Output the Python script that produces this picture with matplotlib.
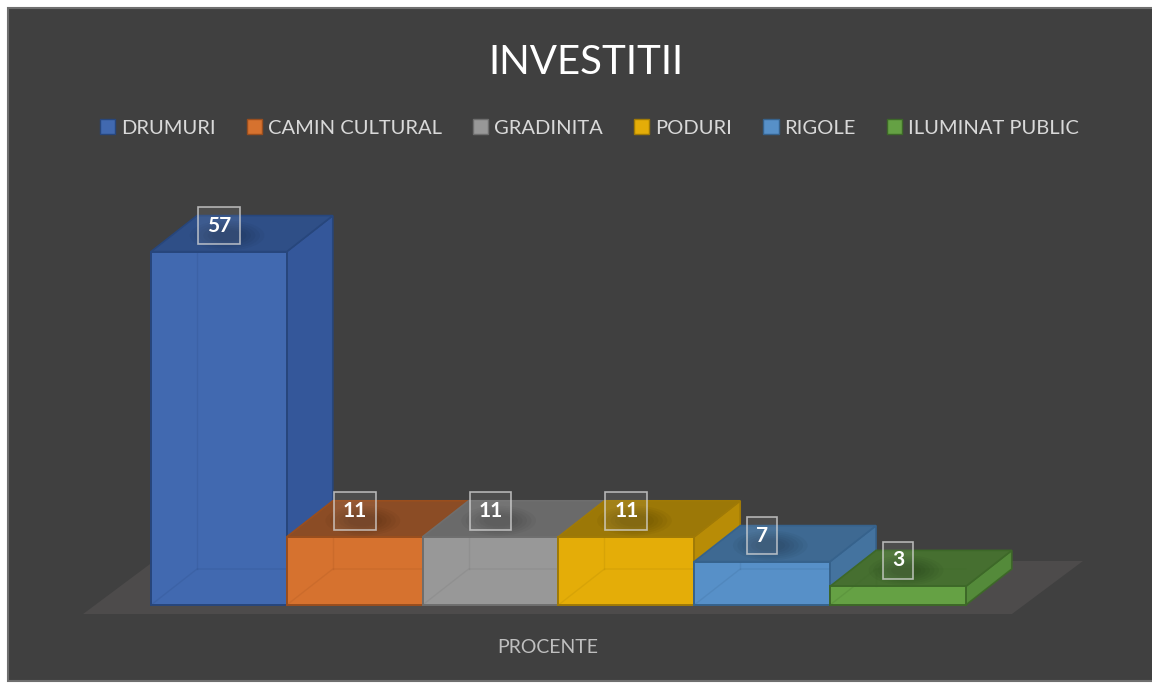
import matplotlib
matplotlib.use('Agg')
import matplotlib.pyplot as plt
from matplotlib.patches import Polygon, Rectangle, Patch, Ellipse

plt.rcParams['font.family'] = ['Lato', 'DejaVu Sans']

# data
categories = ['DRUMURI', 'CAMIN CULTURAL', 'GRADINITA', 'PODURI', 'RIGOLE', 'ILUMINAT PUBLIC']
values = [57, 11, 11, 11, 7, 3]
title = 'INVESTITII'
axis_label = 'PROCENTE'

# face colours (front / top / side / edge)
front_colors = ['#4169b0', '#d6722f', '#989898', '#e4ad08', '#5790c8', '#65a144']
top_colors = ['#2f4f87', '#8b4c25', '#6a6a6a', '#9c7807', '#3e6992', '#466f30']
side_colors = ['#34579a', '#a85a27', '#7a7a7a', '#b88c06', '#44739f', '#548a3a']
edge_colors = ['#27467c', '#994e1e', '#6e6e6e', '#a07a06', '#36628c', '#3d6828']

W, H = 1152, 683
# pixel layout of the plot: where x=0 / v=0 fall and size of one unit
px_x0, px_unit = 151, 135.8
px_y0, px_v = 605, 6.2
depth_x = 46 / px_unit
depth_v = 36 / px_v

fig = plt.figure(figsize=(W / 100, H / 100), dpi=100, facecolor='white')

# chart box
box = Rectangle((8 / W, 2 / H), 1.0, (681 - 8) / H, transform=fig.transFigure,
                fc='#404040', ec='#6f6f6f', lw=1.5, zorder=-5)
fig.patches.append(box)

ax = fig.add_axes([0, 0, 1, 1])
ax.set_xlim(-px_x0 / px_unit, (W - px_x0) / px_unit)
ax.set_ylim((px_y0 - H) / px_v, px_y0 / px_v)
ax.axis('off')

n = len(values)

# floor
fl_front = -9 / px_v
fl_dx, fl_dv = 71 / px_unit, 53 / px_v
fl_left, fl_right = -0.5, n + 0.34
floor = Polygon([(fl_left, fl_front), (fl_right, fl_front),
                 (fl_right + fl_dx, fl_front + fl_dv), (fl_left + fl_dx, fl_front + fl_dv)],
                closed=True, fc='#4d4b4b', ec='none', zorder=1)
ax.add_patch(floor)

z = 2
for i, v in enumerate(values):
    x0, x1 = i, i + 1
    side = Polygon([(x1, 0), (x1 + depth_x, depth_v), (x1 + depth_x, v + depth_v), (x1, v)],
                   closed=True, fc=side_colors[i], ec=edge_colors[i], lw=1.2, zorder=z)
    top = Polygon([(x0, v), (x0 + depth_x, v + depth_v), (x1 + depth_x, v + depth_v), (x1, v)],
                  closed=True, fc=top_colors[i], ec=edge_colors[i], lw=1.2, zorder=z)
    ax.add_patch(side)
    ax.add_patch(top)
    ax.bar(x0, v, width=1, align='edge', color=front_colors[i], edgecolor=edge_colors[i],
           lw=1.4, zorder=z + 0.1)
    # back edges seen through the glass
    ax.plot([x0, x0 + depth_x, x1], [0, depth_v, depth_v], color=edge_colors[i],
            alpha=0.18, lw=1, zorder=z + 0.2)
    ax.plot([x0 + depth_x, x0 + depth_x], [depth_v, v], color=edge_colors[i],
            alpha=0.18, lw=1, zorder=z + 0.2)
    # soft shadow under the label
    for k in [1.0, 0.88, 0.76, 0.64, 0.52, 0.4]:
        ax.add_patch(Ellipse((x0 + 0.56, v + 2.6), 0.55 * k, 4.8 * k, fc='black', ec='none',
                             alpha=0.035, zorder=z + 0.3))
    ax.text(x0 + 0.5, v + 26 / px_v, str(v), ha='center', va='center', fontsize=15,
            weight='bold', color='white', zorder=z + 0.5,
            bbox=dict(boxstyle='square,pad=0.42', fc=(1, 1, 1, 0.07),
                      ec=(0.85, 0.85, 0.85, 0.75), lw=1.2))
    z += 1

fig.text(585.5 / W, 1 - 74 / H, title, fontsize=29, color='white', ha='center', va='baseline')

handles = [Patch(fc=front_colors[i], ec=edge_colors[i], lw=1) for i in range(n)]
fig.legend(handles, categories, loc='center', bbox_to_anchor=(589.5 / W, 1 - 128 / H),
           ncol=n, frameon=False, fontsize=14.5, labelcolor='#d9d9d9',
           handlelength=0.75, handleheight=0.7, handletextpad=0.3, columnspacing=1.55)

fig.text(548 / W, 1 - 653 / H, axis_label, fontsize=14, color='#bfbfbf', ha='center',
         va='baseline')

fig.savefig('out.png', dpi=100)
